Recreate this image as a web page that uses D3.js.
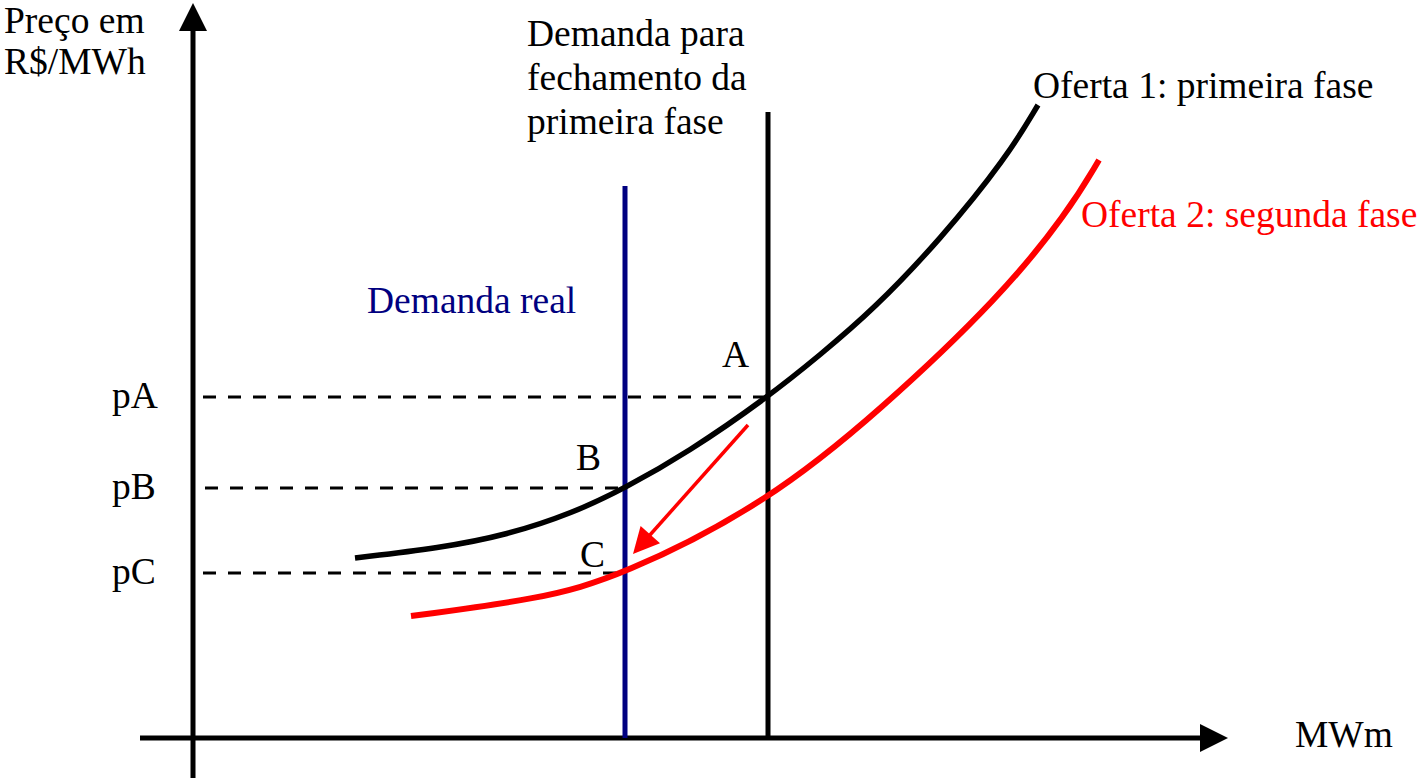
<!DOCTYPE html>
<html>
<head>
<meta charset="utf-8">
<script src="https://cdn.jsdelivr.net/npm/d3@7"></script>
<style>
  body { margin: 0; background: #fff; }
  text { font-family: "Liberation Serif", "Times New Roman", serif; font-size: 37.5px; }
</style>
</head>
<body>
<script>
// quantities / prices in chart units (origin at axes crossing)
const oferta1 = [[162, 180], [247, 190], [314, 203], [380, 225], [432, 250], [494, 285],
                 [575, 341], [627, 383], [680, 428], [747, 498], [814, 581], [845, 633]];
const oferta2 = [[218, 122], [347, 139], [427, 161], [574, 235], [688, 328],
                 [808, 442], [875, 526], [906, 578]];
const demandaReal = {x: 432, top: 552};
const demandaFech = {x: 575, top: 626};
const precos = [
  {label: "pA", y: 341, x1: 10, x2: 575},
  {label: "pB", y: 250, x1: 12, x2: 432},
  {label: "pC", y: 165, x1: 10, x2: 432}
];
const pontos = [
  {label: "A", x: 529, y: 371},
  {label: "B", x: 383, y: 268},
  {label: "C", x: 387, y: 171}
];
const seta = [[555, 313], [440, 184]];

const width = 1424, height = 779;
const x = d3.scaleLinear().domain([0, 1000]).range([193, 1193]);
const y = d3.scaleLinear().domain([0, 700]).range([738, 38]);

const svg = d3.select("body").append("svg")
  .attr("width", width).attr("height", height);

const defs = svg.append("defs");
defs.append("marker").attr("id", "redhead")
  .attr("viewBox", "0 0 10 10").attr("refX", 10).attr("refY", 5)
  .attr("markerWidth", 28).attr("markerHeight", 26)
  .attr("markerUnits", "userSpaceOnUse")
  .attr("orient", "auto")
  .append("path").attr("d", "M0,0 L10,5 L0,10 z").attr("fill", "#ff0000");

// axes
svg.append("line").attr("x1", x(0)).attr("x2", x(0))
  .attr("y1", 778).attr("y2", 28)
  .attr("stroke", "#000").attr("stroke-width", 5);
svg.append("path")
  .attr("d", `M${x(0) - 14},31 L${x(0)},3 L${x(0) + 14},31 Z`).attr("fill", "#000");
svg.append("line").attr("x1", 140).attr("x2", 1202)
  .attr("y1", y(0)).attr("y2", y(0))
  .attr("stroke", "#000").attr("stroke-width", 5);
svg.append("path")
  .attr("d", `M1200,${y(0) - 14} L1228,${y(0)} L1200,${y(0) + 14} Z`).attr("fill", "#000");

// dashed price lines
svg.append("g").selectAll("line").data(precos).join("line")
  .attr("x1", d => x(d.x1)).attr("x2", d => x(d.x2))
  .attr("y1", d => y(d.y)).attr("y2", d => y(d.y))
  .attr("stroke", "#000").attr("stroke-width", 2.8)
  .attr("stroke-dasharray", "13,12");

svg.append("g").selectAll("text").data(precos).join("text")
  .attr("x", 112).attr("y", d => y(d.y) + 11)
  .text(d => d.label);

// demand lines
svg.append("line").attr("x1", x(demandaReal.x)).attr("x2", x(demandaReal.x))
  .attr("y1", y(demandaReal.top)).attr("y2", y(0))
  .attr("stroke", "#000080").attr("stroke-width", 5);
svg.append("line").attr("x1", x(demandaFech.x)).attr("x2", x(demandaFech.x))
  .attr("y1", y(demandaFech.top)).attr("y2", y(0))
  .attr("stroke", "#000").attr("stroke-width", 5);

// supply curves
const line = d3.line().x(d => x(d[0])).y(d => y(d[1])).curve(d3.curveBasis);
svg.append("path").datum(oferta1).attr("d", line)
  .attr("fill", "none").attr("stroke", "#000").attr("stroke-width", 5.5);
svg.append("path").datum(oferta2).attr("d", line)
  .attr("fill", "none").attr("stroke", "#ff0000").attr("stroke-width", 6);

// arrow A -> C
svg.append("line")
  .attr("x1", x(seta[0][0])).attr("y1", y(seta[0][1]))
  .attr("x2", x(seta[1][0]) + 8).attr("y2", y(seta[1][1]) - 9)
  .attr("stroke", "#ff0000").attr("stroke-width", 3.5);
svg.append("line")
  .attr("x1", x(seta[0][0])).attr("y1", y(seta[0][1]))
  .attr("x2", x(seta[1][0])).attr("y2", y(seta[1][1]))
  .attr("stroke", "none")
  .attr("marker-end", "url(#redhead)");

// point labels
svg.append("g").selectAll("text").data(pontos).join("text")
  .attr("x", d => x(d.x)).attr("y", d => y(d.y))
  .text(d => d.label);

// labels
const yLab = svg.append("text").attr("x", 4).attr("y", 33);
yLab.append("tspan").attr("x", 4).text("Preço em");
yLab.append("tspan").attr("x", 4).attr("dy", 41).text("R$/MWh");

svg.append("text").attr("x", 1295).attr("y", 747).text("MWm");

const dLab = svg.append("text");
["Demanda para", "fechamento da", "primeira fase"].forEach((t, i) => {
  dLab.append("tspan").attr("x", 527).attr("y", 46 + i * 44).text(t);
});

svg.append("text").attr("x", 367).attr("y", 313).attr("fill", "#000080").text("Demanda real");
svg.append("text").attr("x", 1033).attr("y", 98).text("Oferta 1: primeira fase");
svg.append("text").attr("x", 1081).attr("y", 227).attr("fill", "#ff0000").text("Oferta 2: segunda fase");
</script>
</body>
</html>
